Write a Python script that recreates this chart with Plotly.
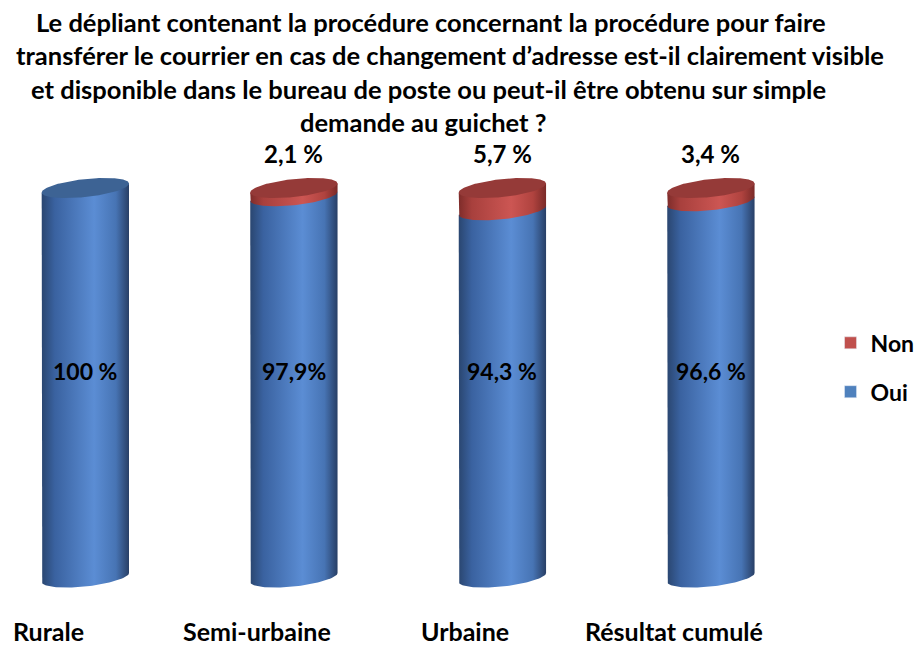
import numpy as np
import plotly.graph_objects as go

categories = ["Rurale", "Semi-urbaine", "Urbaine", "Résultat cumulé"]
oui = [100.0, 97.9, 94.3, 96.6]
non = [0.0, 2.1, 5.7, 3.4]
oui_labels = ["100 %", "97,9%", "94,3 %", "96,6 %"]
non_labels = ["", "2,1 %", "5,7 %", "3,4 %"]
title_lines = [
    "Le dépliant contenant la procédure concernant la procédure pour faire",
    "transférer le courrier en cas de changement d’adresse est-il clairement visible",
    "et disponible dans le bureau de poste ou peut-il être obtenu sur simple",
    "demande au guichet ?",
]
title_centers = [439, 459, 437, 431]

FONT = "Lato"
BLUE = "#4F81BD"
RED = "#C0504D"
blue_scale = [[0, "#2a4670"], [0.15, "#3a62a0"], [0.6, "#5b8dd4"], [0.85, "#4774b4"], [1, "#283f66"]]
red_scale = [[0, "#7e2c2a"], [0.15, "#a8403d"], [0.6, "#cc5653"], [0.85, "#b0433f"], [1, "#7a2a28"]]
BLUE_TOP = "#3d6394"
RED_TOP = "#953a38"

W = 0.2094   # half width (x units)
H = 2.31     # ellipse half height (y units)
K = 1.155    # perspective shear (y units)

t = np.linspace(0, 2 * np.pi, 121)

fig = go.Figure()


def body(c, y0, y1, scale):
    tt = np.linspace(np.pi, 2 * np.pi, 61)
    ax = c + W * np.cos(tt)
    ay = y0 + H * np.sin(tt) + K * np.cos(tt)
    xs = [c - W] + list(ax) + [c + W, c - W]
    ys = [y1 - K] + list(ay) + [y1 + K, y1 - K]
    fig.add_trace(go.Scatter(x=xs, y=ys, mode="lines", fill="toself",
                             line=dict(width=0), fillgradient=dict(type="horizontal", colorscale=scale),
                             hoverinfo="skip", showlegend=False))


def top(c, y, color):
    fig.add_trace(go.Scatter(x=c + W * np.cos(t), y=y + H * np.sin(t) + K * np.cos(t),
                             mode="lines", fill="toself", fillcolor=color, line=dict(width=0),
                             hoverinfo="skip", showlegend=False))


for i, cat in enumerate(categories):
    body(i, 0, oui[i], blue_scale)
    total = oui[i]
    if non[i] > 0:
        body(i, oui[i], oui[i] + non[i], red_scale)
        total = oui[i] + non[i]
        top(i, total, RED_TOP)
    else:
        top(i, total, BLUE_TOP)
    fig.add_annotation(x=i, y=53, text=oui_labels[i], showarrow=False,
                       font=dict(family=FONT, size=23, color="black", weight="bold"))
    if non_labels[i]:
        fig.add_annotation(x=i, y=total, text=non_labels[i], showarrow=False, yanchor="bottom",
                           yshift=18, font=dict(family=FONT, size=24, color="black", weight="bold"))
    fig.add_annotation(x=i, xref="x", yref="paper", y=-47 / 450, text=cat, showarrow=False,
                       yanchor="bottom", xshift=-37, borderpad=0,
                       font=dict(family=FONT, size=25, color="black", weight="bold"))

# legend entries
fig.add_trace(go.Bar(x=[None], y=[None], name="Non", marker_color=RED, legendgroup="n"))
fig.add_trace(go.Bar(x=[None], y=[None], name="Oui", marker_color=BLUE, legendgroup="o"))

for j, line in enumerate(title_lines):
    fig.add_annotation(xref="paper", yref="paper", x=title_centers[j] / 800,
                       y=(150 - 22 - 33.3 * j) / 450 + 1,
                       text=line, showarrow=False, xanchor="center", yanchor="middle",
                       font=dict(family=FONT, size=25.5, color="black", weight="bold"))

fig.update_layout(
    width=920, height=648,
    margin=dict(l=0, r=120, t=150, b=48),
    paper_bgcolor="white", plot_bgcolor="white",
    xaxis=dict(range=[-0.4094, 3.3553], showticklabels=False, showgrid=False, zeroline=False,
               showline=False, ticks=""),
    yaxis=dict(range=[-5.78, 109.76], visible=False),
    legend=dict(x=1.058, y=0.517, xanchor="left", yanchor="middle", traceorder="grouped",
                font=dict(family=FONT, size=23, color="black", weight="bold"), itemwidth=30,
                tracegroupgap=16),
    showlegend=True,
)

fig.write_html("out.html", config={"displayModeBar": False},
               post_script="document.body.style.margin='0px';")
